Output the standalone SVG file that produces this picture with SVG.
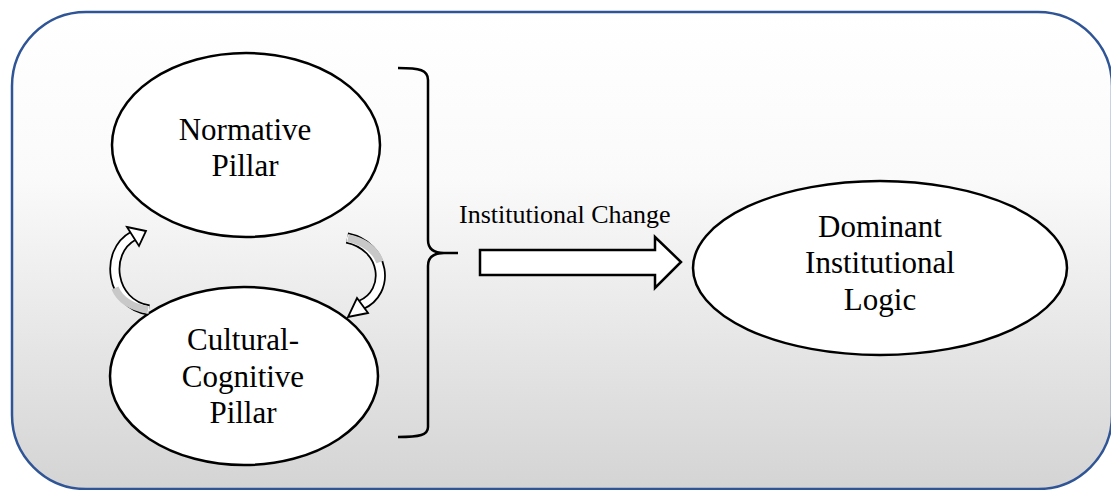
<svg xmlns="http://www.w3.org/2000/svg" width="1111" height="490" viewBox="0 0 1111 490">
  <defs>
    <linearGradient id="panelFill" x1="0" y1="0" x2="0" y2="1">
      <stop offset="0" stop-color="#ffffff"/>
      <stop offset="0.35" stop-color="#fafafa"/>
      <stop offset="1" stop-color="#d4d4d4"/>
    </linearGradient>
    <style>
      .node { fill: #ffffff; stroke: #000000; stroke-width: 2.5; }
      .label { font-family: "Liberation Serif", "Times New Roman", serif; font-size: 31px; fill: #000000; text-anchor: middle; }
      .edge-label { font-family: "Liberation Serif", "Times New Roman", serif; font-size: 26px; fill: #000000; }
      .band-outline { fill: none; stroke: #000000; stroke-width: 11; }
      .band-face { fill: none; stroke: #ffffff; stroke-width: 7.5; }
      .band-back { fill: none; stroke: #c8c8c8; stroke-width: 7.5; }
      .head { fill: #ffffff; stroke: #000000; stroke-width: 1.8; stroke-linejoin: miter; }
    </style>
  </defs>

  <!-- rounded panel -->
  <rect x="12" y="12" width="1100" height="477" rx="74" ry="74" fill="url(#panelFill)" stroke="#2f5597" stroke-width="2.5"/>

  <g id="normative-pillar">
    <ellipse class="node" cx="246" cy="145" rx="134" ry="92"/>
    <text class="label" x="245" y="140">Normative</text>
    <text class="label" x="245" y="176">Pillar</text>
  </g>

  <g id="cultural-cognitive-pillar">
    <ellipse class="node" cx="244" cy="376" rx="134" ry="89"/>
    <text class="label" x="243" y="350">Cultural-</text>
    <text class="label" x="243" y="387">Cognitive</text>
    <text class="label" x="243" y="423">Pillar</text>
  </g>

  <g id="dominant-institutional-logic">
    <ellipse class="node" cx="880" cy="268" rx="187" ry="87"/>
    <text class="label" x="880" y="237">Dominant</text>
    <text class="label" x="880" y="273">Institutional</text>
    <text class="label" x="880" y="310">Logic</text>
  </g>

  <g id="connectors">
    <!-- curved arrow: cultural-cognitive up to normative -->
    <path class="band-outline" d="M 149,310 C 110,304 104,252 133,236"/>
    <path class="band-face" d="M 149,310 C 110,304 104,252 133,236"/>
    <path class="band-back" d="M 148,310 C 131,307 120,300 115,288"/>
    <polygon class="head" points="127,227 146,231 139,246"/>

    <!-- curved arrow: normative down to cultural-cognitive -->
    <path class="band-outline" d="M 347,238 C 386,246 391,292 361,305"/>
    <path class="band-face" d="M 347,238 C 386,246 391,292 361,305"/>
    <path class="band-back" d="M 348,238 C 366,242 376,251 380,262"/>
    <polygon class="head" points="368,313 348,317 357,298"/>

    <!-- curly brace grouping the two pillars -->
    <path d="M 398,68 C 420,68 428,70 428,80 L 428,240 C 428,249 433,253 444,253 L 458,253 M 444,253 C 433,253 428,257 428,266 L 428,427 C 428,435 420,437 398,437" fill="none" stroke="#000000" stroke-width="2.5"/>

    <!-- block arrow towards the dominant logic -->
    <polygon points="480,250 655,250 655,237 681,262 655,288 655,275 480,275" fill="#ffffff" stroke="#000000" stroke-width="2.5"/>
    <text class="edge-label" x="459" y="223">Institutional Change</text>
  </g>
</svg>
